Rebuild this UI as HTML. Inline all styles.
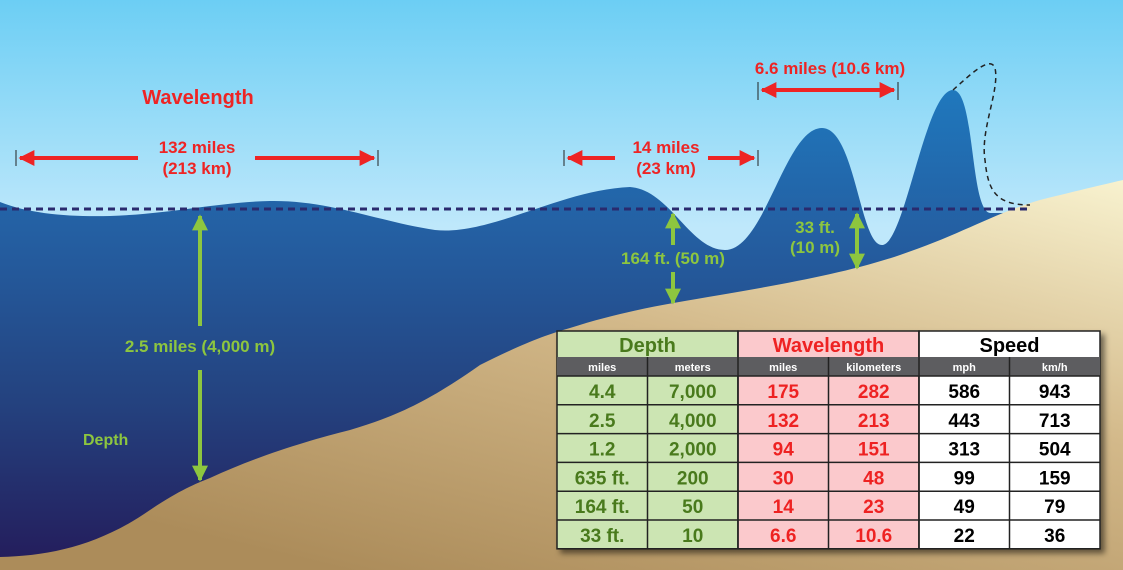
<!DOCTYPE html>
<html><head><meta charset="utf-8">
<style>
html,body{margin:0;padding:0;width:1123px;height:570px;overflow:hidden;background:#fff}
svg{display:block}
text{font-family:"Liberation Sans",Arial,sans-serif;font-weight:bold}
</style></head>
<body>
<svg id="svg" width="1123" height="570" viewBox="0 0 1123 570">
<defs>
<linearGradient id="sky" x1="0" y1="0" x2="0" y2="1">
<stop offset="0" stop-color="#6ccef4"/><stop offset="0.4" stop-color="#bfe8fb"/><stop offset="1" stop-color="#c2e9fb"/></linearGradient>
<linearGradient id="water" x1="0" y1="0" x2="0" y2="1">
<stop offset="0" stop-color="#1f78bd"/><stop offset="0.3" stop-color="#245fa2"/><stop offset="0.65" stop-color="#24427f"/><stop offset="1" stop-color="#241b5a"/></linearGradient>
<linearGradient id="sand" x1="1" y1="0" x2="0.3" y2="1">
<stop offset="0" stop-color="#f8f2cf"/><stop offset="0.45" stop-color="#d3b98a"/><stop offset="1" stop-color="#ac8c5a"/></linearGradient>
<marker id="ar" viewBox="0 0 10 10" refX="9" refY="5" markerWidth="4" markerHeight="4" orient="auto-start-reverse"><path d="M0,0L10,5L0,10z" fill="#ee2424"/></marker>
<marker id="ag" viewBox="0 0 10 10" refX="9" refY="5" markerWidth="4" markerHeight="4" orient="auto-start-reverse"><path d="M0,0L10,5L0,10z" fill="#8dc63f"/></marker>
<filter id="sh"><feDropShadow dx="4" dy="4" stdDeviation="3" flood-opacity="0.5"/></filter>
</defs>
<rect width="1123" height="570" fill="url(#sky)"/>
<path fill="url(#water)" d="M0,202 C30,214 70,217 110,216 C170,214 220,202 270,201 C330,200 380,222 435,230 C490,236 560,190 630,187 C670,190 690,250 725,250 C765,250 785,128 822,128 C855,128 860,245 882,245 C905,245 925,90 953,90 C975,90 970,210 990,213 L1123,213 L1123,570 L0,570 Z"/>
<path fill="url(#sand)" d="M0,570 L0,557 C50,556 100,545 150,510 C180,490 195,484 210,478 C260,455 310,440 350,430 C400,415 430,400 480,365 C520,345 545,335 570,328 C620,312 660,305 720,295 C790,283 850,272 900,255 C960,235 990,215 1040,200 C1080,190 1110,183 1123,180 L1123,570 Z"/>
<line x1="0" y1="209" x2="1030" y2="209" stroke="#2a2a6e" stroke-width="3" stroke-dasharray="7,5"/>
<path d="M953,90 C970,75 990,55 995,68 C1000,90 980,130 985,160 C988,190 995,205 1030,205" fill="none" stroke="#222" stroke-width="1.5" stroke-dasharray="5,4"/>
<text x="198" y="104" font-size="20" fill="#ee2424" text-anchor="middle">Wavelength</text>
<g stroke="#ee2424" stroke-width="4">
<line x1="20" y1="158" x2="138" y2="158" marker-start="url(#ar)"/><line x1="255" y1="158" x2="374" y2="158" marker-end="url(#ar)"/></g>
<line x1="16" y1="150" x2="16" y2="166" stroke="#222"/><line x1="378" y1="150" x2="378" y2="166" stroke="#222"/>
<text x="197" y="153" font-size="17" fill="#ee2424" text-anchor="middle">132 miles</text>
<text x="197" y="174" font-size="17" fill="#ee2424" text-anchor="middle">(213 km)</text>
<g stroke="#ee2424" stroke-width="4">
<line x1="568" y1="158" x2="615" y2="158" marker-start="url(#ar)"/><line x1="708" y1="158" x2="754" y2="158" marker-end="url(#ar)"/></g>
<line x1="564" y1="150" x2="564" y2="166" stroke="#222"/><line x1="758" y1="150" x2="758" y2="166" stroke="#222"/>
<text x="666" y="153" font-size="17" fill="#ee2424" text-anchor="middle">14 miles</text>
<text x="666" y="174" font-size="17" fill="#ee2424" text-anchor="middle">(23 km)</text>
<line x1="762" y1="90" x2="894" y2="90" stroke="#ee2424" stroke-width="4" marker-start="url(#ar)" marker-end="url(#ar)"/>
<line x1="758" y1="82" x2="758" y2="100" stroke="#222"/><line x1="898" y1="82" x2="898" y2="100" stroke="#222"/>
<text x="830" y="74" font-size="17" fill="#ee2424" text-anchor="middle">6.6 miles (10.6 km)</text>
<g stroke="#8dc63f" stroke-width="4">
<line x1="200" y1="326" x2="200" y2="216" marker-end="url(#ag)"/><line x1="200" y1="370" x2="200" y2="480" marker-end="url(#ag)"/></g>
<text x="200" y="352" font-size="17" fill="#8dc63f" text-anchor="middle">2.5 miles (4,000 m)</text>
<text x="83" y="445" font-size="16" fill="#8dc63f">Depth</text>
<g stroke="#8dc63f" stroke-width="4">
<line x1="673" y1="245" x2="673" y2="214" marker-end="url(#ag)"/><line x1="673" y1="272" x2="673" y2="303" marker-end="url(#ag)"/></g>
<text x="673" y="264" font-size="17" fill="#8dc63f" text-anchor="middle">164 ft. (50 m)</text>
<line x1="857" y1="214" x2="857" y2="268" stroke="#8dc63f" stroke-width="4" marker-start="url(#ag)" marker-end="url(#ag)"/>
<text x="815" y="233" font-size="17" fill="#8dc63f" text-anchor="middle">33 ft.</text>
<text x="815" y="253" font-size="17" fill="#8dc63f" text-anchor="middle">(10 m)</text>
<g id="table" filter="url(#sh)"></g>
</svg>
<script>
const depthMiles=["4.4","2.5","1.2","635 ft.","164 ft.","33 ft."];
const depthMeters=["7,000","4,000","2,000","200","50","10"];
const wlMiles=["175","132","94","30","14","6.6"];
const wlKm=["282","213","151","48","23","10.6"];
const speedMph=["586","443","313","99","49","22"];
const speedKmh=["943","713","504","159","79","36"];
const groups=["Depth","Wavelength","Speed"];
const subs=["miles","meters","miles","kilometers","mph","km/h"];
const NS="http://www.w3.org/2000/svg";
const g=document.getElementById('table');
const x0=557,cw=90.5,y0=331,hh=26,sh=19,rh=28.8;
const bg=["#cce5b3","#fbc9cc","#ffffff"],fg=["#4a7a1f","#ee2424","#000"];
function el(t,a){const e=document.createElementNS(NS,t);for(const k in a)e.setAttribute(k,a[k]);g.appendChild(e);return e;}
const cols=[depthMiles,depthMeters,wlMiles,wlKm,speedMph,speedKmh];
const H=hh+sh+rh*depthMiles.length;
for(let gi=0;gi<3;gi++){
 const r=el('rect',{x:x0+gi*2*cw,y:y0,width:2*cw,height:H,fill:bg[gi],stroke:'#222','stroke-width':1.5});
 
 const t=el('text',{x:x0+gi*2*cw+cw,y:y0+21,'font-size':20,fill:fg[gi],'text-anchor':'middle'});t.textContent=groups[gi];
 
}
const sr=el('rect',{x:x0,y:y0+hh,width:6*cw,height:sh,fill:'#5d5d60'});

for(let c=0;c<6;c++){
 const t=el('text',{x:x0+c*cw+cw/2,y:y0+hh+14,'font-size':11,fill:'#fff','text-anchor':'middle','font-weight':'normal'});t.textContent=subs[c];
 
 if(c>0){const l=el('line',{x1:x0+c*cw,y1:y0+(c%2?hh:0),x2:x0+c*cw,y2:y0+H,stroke:'#222','stroke-width':1.5});
 }
 for(let r=0;r<cols[c].length;r++){
  const v=el('text',{x:x0+c*cw+cw/2,y:y0+hh+sh+r*rh+22,'font-size':19,fill:fg[Math.floor(c/2)],'text-anchor':'middle'});v.textContent=cols[c][r];
  
 }
}
for(let r=0;r<=depthMiles.length;r++){
 const l=el('line',{x1:x0,y1:y0+hh+sh+r*rh,x2:x0+6*cw,y2:y0+hh+sh+r*rh,stroke:'#222','stroke-width':1.5});
 
}
</script>
</body></html>
